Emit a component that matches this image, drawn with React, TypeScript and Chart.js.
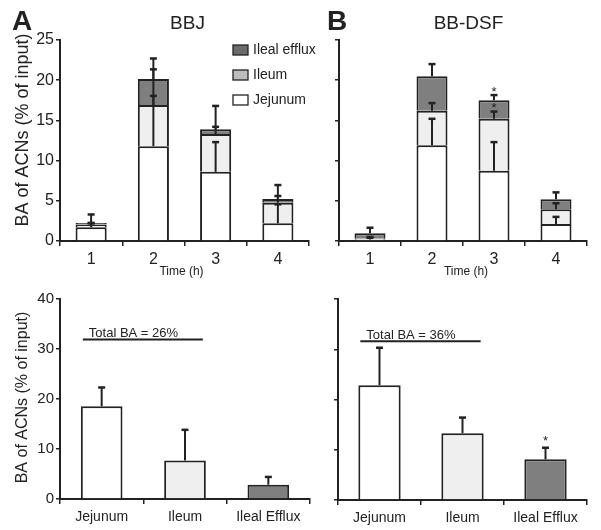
import React, { useEffect, useRef } from "react";
import { Chart, registerables } from "chart.js";
Chart.register(...registerables);

// ---------- data ----------
const timeLabels = ["1", "2", "3", "4"];
const regionLabels = ["Jejunum", "Ileum", "Ileal Efflux"];
const legendNames = ["Ileal efflux", "Ileum", "Jejunum"];

// Panel A (BBJ) stacked, per time point
const bbjJejunum = [1.7, 11.8, 8.6, 2.2];
const bbjIleum = [0.35, 5.1, 4.7, 2.55];
const bbjEfflux = [0.2, 3.25, 0.6, 0.47];
const bbjJejunumErr = [0.5, 6.25, 3.7, 2.36];
const bbjIleumErr = [0.2, 4.45, 0.9, 0.85];
const bbjEffluxErr = [1.05, 2.55, 2.9, 1.74];

// Panel B (BB-DSF) stacked, per time point
const dsfJejunum = [0.2, 11.9, 8.75, 2.1];
const dsfIleum = [0.15, 4.3, 6.45, 1.85];
const dsfEfflux = [0.6, 4.3, 2.3, 1.25];
const dsfJejunumErr = [0.2, 3.3, 3.55, 0.9];
const dsfIleumErr = [0.15, 0.95, 0.9, 0.75];
const dsfEffluxErr = [0.7, 1.5, 0.65, 0.85];

// Totals per region (bottom panels)
const bbjRegion = [18.5, 7.7, 2.85];
const bbjRegionErr = [3.75, 6.1, 1.55];
const dsfRegion = [22.85, 13.3, 8.1];
const dsfRegionErr = [7.45, 3.1, 2.3];

const totalTextBBJ = "Total BA = 26%";
const totalTextDSF = "Total BA = 36%";
const totalLineLevel = [31.8, 31.6];

// significance markers: [datasetIndex, dataIndex]
const dsfTopStars = [[1, 2], [2, 2]];
const dsfBottomStars = [[0, 2]];

const topMax = 25, topStep = 5;
const bottomMax = 40, bottomStep = 10;

// ---------- style ----------
const W = 601, H = 530;
const FONT = '"Liberation Sans", Arial, Helvetica, sans-serif';
const INK = "#222222";
const C_JEJ = "#ffffff";
const C_ILE = "#efefef";
const C_EFF = "#7f7f7f";
const YW = 40, XH = 40;

type Area = { left: number; right: number; top: number; bottom: number };

function errorPlugin(errs: number[][], stacked: boolean) {
  return {
    id: "errorBars",
    afterDatasetsDraw(chart: any) {
      const ctx = chart.ctx;
      const y = chart.scales.y;
      ctx.save();
      ctx.strokeStyle = INK;
      errs.forEach((e, d) => {
        const meta = chart.getDatasetMeta(d);
        meta.data.forEach((el: any, i: number) => {
          let top = 0;
          for (let k = stacked ? 0 : d; k <= d; k++) top += chart.data.datasets[k].data[i];
          const yTop = y.getPixelForValue(top);
          const yCap = y.getPixelForValue(top + e[i]);
          ctx.lineWidth = 2;
          ctx.beginPath();
          ctx.moveTo(el.x, yTop);
          ctx.lineTo(el.x, yCap);
          ctx.stroke();
          ctx.lineWidth = 2.5;
          ctx.beginPath();
          ctx.moveTo(el.x - 3.5, yCap);
          ctx.lineTo(el.x + 3.5, yCap);
          ctx.stroke();
        });
      });
      ctx.restore();
    },
  };
}

function text(ctx: any, s: string, x: number, y: number, size: number, align = "left", bold = false, base = "alphabetic") {
  ctx.save();
  ctx.fillStyle = INK;
  ctx.font = `${bold ? "bold " : ""}${size}px ${FONT}`;
  ctx.textAlign = align;
  ctx.textBaseline = base;
  ctx.fillText(s, x, y);
  ctx.restore();
}

function vtext(ctx: any, s: string, cx: number, cy: number, size: number) {
  ctx.save();
  ctx.translate(cx, cy);
  ctx.rotate(-Math.PI / 2);
  ctx.fillStyle = INK;
  ctx.font = `${size}px ${FONT}`;
  ctx.textAlign = "center";
  ctx.textBaseline = "middle";
  ctx.fillText(s, 0, 0);
  ctx.restore();
}

function starAt(chart: any, errs: number[][], stacked: boolean, d: number, i: number, gap: number) {
  const ctx = chart.ctx;
  const y = chart.scales.y;
  const el = chart.getDatasetMeta(d).data[i];
  let top = 0;
  for (let k = stacked ? 0 : d; k <= d; k++) top += chart.data.datasets[k].data[i];
  const yCap = y.getPixelForValue(top + errs[d][i]);
  text(ctx, "*", el.x, yCap - gap + 7.5, 13, "center");
}

function totalLine(chart: any, level: number, label: string) {
  const ctx = chart.ctx;
  const y = chart.scales.y;
  const meta = chart.getDatasetMeta(0);
  const a = meta.data[0], b = meta.data[1];
  const x0 = a.x - a.width / 2 + 2;
  const x1 = b.x + b.width / 2 - 3;
  const py = y.getPixelForValue(level);
  ctx.save();
  ctx.strokeStyle = INK;
  ctx.lineWidth = 2;
  ctx.beginPath();
  ctx.moveTo(x0, py);
  ctx.lineTo(x1, py);
  ctx.stroke();
  ctx.restore();
  text(ctx, label, x0 + 6, py - 2.5, 13);
}

function makeChart(
  canvas: HTMLCanvasElement,
  area: Area,
  labels: string[],
  datasets: any[],
  errs: number[][],
  stacked: boolean,
  yMax: number,
  yStep: number,
  showYLabels: boolean,
  yFont: number,
  xFont: number,
  xPad: number,
  barFrac: number,
  extra: (chart: any) => void
) {
  return new Chart(canvas, {
    type: "bar",
    data: {
      labels,
      datasets: datasets.map((ds) => ({
        ...ds,
        borderColor: INK,
        borderWidth: 2,
        borderSkipped: "start",
        barPercentage: 1,
        categoryPercentage: barFrac,
      })),
    },
    options: {
      responsive: false,
      animation: false,
      events: [],
      layout: {
        padding: {
          left: area.left - YW,
          right: W - area.right,
          top: area.top,
          bottom: H - area.bottom - XH,
        },
      },
      plugins: { legend: { display: false }, tooltip: { enabled: false }, title: { display: false } },
      scales: {
        x: {
          stacked,
          offset: true,
          grid: { offset: true, drawOnChartArea: false, drawTicks: true, tickLength: 5, color: INK, lineWidth: 1.5 },
          border: { display: true, color: INK, width: 2 },
          ticks: { color: INK, font: { family: FONT, size: xFont }, padding: xPad, maxRotation: 0, autoSkip: false },
          afterFit: (s: any) => {
            s.height = XH;
          },
        },
        y: {
          stacked,
          min: 0,
          max: yMax,
          grid: { drawOnChartArea: false, drawTicks: true, tickLength: 4, color: INK, lineWidth: 1.5 },
          border: { display: true, color: INK, width: 2 },
          ticks: {
            stepSize: yStep,
            color: showYLabels ? INK : "rgba(0,0,0,0)",
            font: { family: FONT, size: yFont },
            padding: 2,
          },
          afterFit: (s: any) => {
            s.width = YW;
          },
        },
      },
    } as any,
    plugins: [errorPlugin(errs, stacked), { id: "extras", afterDraw: extra }],
  });
}

const stackSets = (j: number[], i: number[], e: number[]) => [
  { label: "Jejunum", data: j, backgroundColor: C_JEJ },
  { label: "Ileum", data: i, backgroundColor: C_ILE },
  { label: "Ileal efflux", data: e, backgroundColor: C_EFF },
];

export default function App() {
  const r1 = useRef<HTMLCanvasElement>(null);
  const r2 = useRef<HTMLCanvasElement>(null);
  const r3 = useRef<HTMLCanvasElement>(null);
  const r4 = useRef<HTMLCanvasElement>(null);

  useEffect(() => {
    const charts: Chart[] = [];
    const topAErr = [bbjJejunumErr, bbjIleumErr, bbjEffluxErr];
    const topBErr = [dsfJejunumErr, dsfIleumErr, dsfEffluxErr];

    charts.push(
      makeChart(r1.current!, { left: 60, right: 309, top: 40, bottom: 241 }, timeLabels,
        stackSets(bbjJejunum, bbjIleum, bbjEfflux), topAErr, true, topMax, topStep, true, 16, 16, 4, 0.5,
        (chart) => {
          const ctx = chart.ctx;
          text(ctx, "A", 12, 30, 28, "left", true);
          text(ctx, "BBJ", 187.5, 28.5, 19, "center");
          vtext(ctx, "BA of ACNs (% of input)", 23, 130, 18);
          text(ctx, "Time (h)", 181.5, 275, 12, "center");
          const cols = ["#6b6b6b", "#bdbdbd", "#ffffff"];
          legendNames.forEach((n, k) => {
            const cy = 50 + k * 25;
            ctx.save();
            ctx.fillStyle = cols[k];
            ctx.fillRect(233, cy - 5, 15, 10);
            ctx.strokeStyle = INK;
            ctx.lineWidth = 1.3;
            ctx.strokeRect(233, cy - 5, 15, 10);
            ctx.restore();
            text(ctx, n, 253, cy, 14, "left", false, "middle");
          });
        })
    );
    charts.push(
      makeChart(r2.current!, { left: 339, right: 587, top: 40, bottom: 241 }, timeLabels,
        stackSets(dsfJejunum, dsfIleum, dsfEfflux), topBErr, true, topMax, topStep, false, 16, 16, 4, 0.5,
        (chart) => {
          const ctx = chart.ctx;
          text(ctx, "B", 327, 30, 28, "left", true);
          text(ctx, "BB-DSF", 468.5, 28.5, 19, "center");
          text(ctx, "Time (h)", 466, 275, 12, "center");
          dsfTopStars.forEach(([d, i]) => starAt(chart, topBErr, true, d, i, 7));
        })
    );
    charts.push(
      makeChart(r3.current!, { left: 60, right: 310, top: 298.5, bottom: 499 }, regionLabels,
        [{ label: "BBJ", data: bbjRegion, backgroundColor: [C_JEJ, C_ILE, C_EFF] }], [bbjRegionErr], false,
        bottomMax, bottomStep, true, 15, 14, 5, 0.5,
        (chart) => {
          const ctx = chart.ctx;
          vtext(ctx, "BA of ACNs (% of input)", 23, 397.5, 16);
          totalLine(chart, totalLineLevel[0], totalTextBBJ);
        })
    );
    charts.push(
      makeChart(r4.current!, { left: 338, right: 587, top: 299, bottom: 500 }, regionLabels,
        [{ label: "BB-DSF", data: dsfRegion, backgroundColor: [C_JEJ, C_ILE, C_EFF] }], [dsfRegionErr], false,
        bottomMax, bottomStep, false, 15, 14, 5, 0.51,
        (chart) => {
          totalLine(chart, totalLineLevel[1], totalTextDSF);
          dsfBottomStars.forEach(([d, i]) => starAt(chart, [dsfRegionErr], false, d, i, 10));
        })
    );
    return () => charts.forEach((c) => c.destroy());
  }, []);

  const cs: React.CSSProperties = { position: "absolute", left: 0, top: 0, width: W, height: H };
  return (
    <div style={{ position: "fixed", left: 0, top: 0, width: W, height: H, background: "#fff" }}>
      <canvas ref={r1} width={W} height={H} style={cs} />
      <canvas ref={r2} width={W} height={H} style={cs} />
      <canvas ref={r3} width={W} height={H} style={cs} />
      <canvas ref={r4} width={W} height={H} style={cs} />
    </div>
  );
}
